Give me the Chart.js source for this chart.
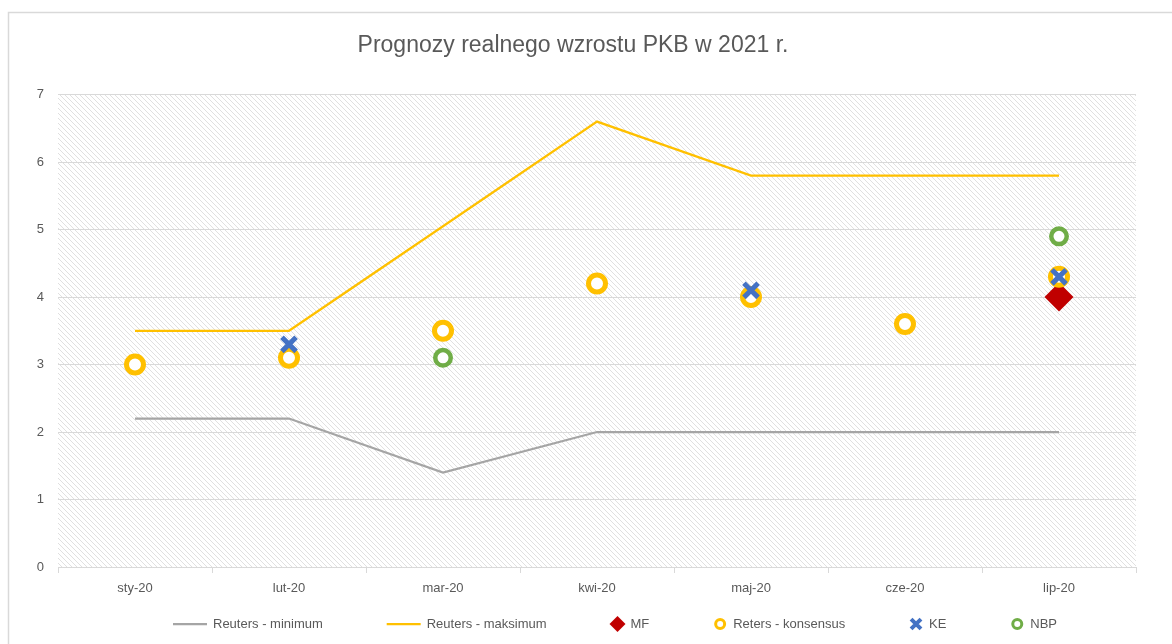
<!DOCTYPE html>
<html>
<head>
<meta charset="utf-8">
<script src="https://cdn.jsdelivr.net/npm/chart.js@4.4.0/dist/chart.umd.min.js"></script>
<style>
  html, body { margin: 0; padding: 0; background: #fff; }
  #wrap { position: relative; width: 1172px; height: 644px; }
</style>
</head>
<body>
<div id="wrap"><canvas id="chart"></canvas></div>
<script>
// dane
const months = ['sty-20', 'lut-20', 'mar-20', 'kwi-20', 'maj-20', 'cze-20', 'lip-20'];
const reutersMin = [2.2, 2.2, 1.4, 2.0, 2.0, 2.0, 2.0];
const reutersMax = [3.5, 3.5, 5.05, 6.6, 5.8, 5.8, 5.8];
const mf = [null, null, null, null, null, null, 4.0];
const konsensus = [3.0, 3.1, 3.5, 4.2, 4.0, 3.6, 4.3];
const ke = [null, 3.3, null, null, 4.1, null, 4.3];
const nbp = [null, null, 3.1, null, null, null, 4.9];
const yTicks = [0, 1, 2, 3, 4, 5, 6, 7];

const FONT = '"Liberation Sans", Arial, sans-serif';
const TXT = '#595959';
const GRID = '#d9d9d9';

// tło w paski (jak w Excelu)
function makeHatch() {
    const c = document.createElement('canvas');
    c.width = 5; c.height = 5;
    const g = c.getContext('2d');
    g.fillStyle = '#fff';
    g.fillRect(0, 0, 5, 5);
    g.fillStyle = '#e0e0e0';
    for (let i = 0; i < 5; i++) g.fillRect(i, i, 1, 1);
    return c;
}

const hatchPlugin = {
    id: 'hatch',
    beforeDraw(chart) {
        const { ctx, chartArea: a } = chart;
        ctx.save();
        // ramka wykresu
        ctx.strokeStyle = GRID;
        ctx.lineWidth = 1.5;
        ctx.beginPath();
        ctx.moveTo(8.5, chart.height);
        ctx.lineTo(8.5, 12.5);
        ctx.lineTo(chart.width, 12.5);
        ctx.stroke();
        ctx.fillStyle = ctx.createPattern(makeHatch(), 'repeat');
        ctx.fillRect(a.left, a.top, a.right - a.left, a.bottom - a.top);
        ctx.restore();
    }
};

function drawMarker(ctx, style, x, y, size) {
    ctx.beginPath();
    if (style === 'circle') {
        ctx.arc(x, y, size, 0, Math.PI * 2);
        ctx.fill();
        ctx.stroke();
    } else if (style === 'rectRot') {
        ctx.moveTo(x - size, y);
        ctx.lineTo(x, y - size);
        ctx.lineTo(x + size, y);
        ctx.lineTo(x, y + size);
        ctx.closePath();
        ctx.fill();
    } else if (style === 'crossRot') {
        const d = size * Math.SQRT1_2;
        ctx.moveTo(x - d, y - d); ctx.lineTo(x + d, y + d);
        ctx.moveTo(x + d, y - d); ctx.lineTo(x - d, y + d);
        ctx.stroke();
    }
}

// legenda rysowana ręcznie, rozłożona jak w Excelu
const legendPlugin = {
    id: 'excelLegend',
    afterDraw(chart) {
        const ctx = chart.ctx;
        ctx.save();
        ctx.font = '13px ' + FONT;
        ctx.textBaseline = 'middle';
        const items = chart.data.datasets.map(ds => {
            const isLine = ds.showLine !== false;
            const sample = isLine ? 34 : 14;
            return { ds, isLine, sample, w: sample + 6 + ctx.measureText(ds.label).width };
        });
        const left = 173, right = 1057, y = 624;
        const total = items.reduce((s, it) => s + it.w, 0);
        const gap = (right - left - total) / (items.length - 1);
        let x = left;
        items.forEach(it => {
            const ds = it.ds;
            if (it.isLine) {
                ctx.strokeStyle = ds.borderColor;
                ctx.lineWidth = 2.25;
                ctx.beginPath();
                ctx.moveTo(x, y);
                ctx.lineTo(x + it.sample, y);
                ctx.stroke();
            } else {
                ctx.fillStyle = ds.pointBackgroundColor;
                ctx.strokeStyle = ds.pointBorderColor;
                ctx.lineWidth = ds.legendBorder;
                drawMarker(ctx, ds.pointStyle, x + it.sample / 2, y, ds.legendSize);
            }
            ctx.fillStyle = TXT;
            ctx.fillText(ds.label, x + it.sample + 6, y);
            x += it.w + gap;
        });
        ctx.restore();
    }
};

const ctx = document.getElementById('chart').getContext('2d');
new Chart(ctx, {
    type: 'line',
    data: {
        labels: months,
        datasets: [
            {
                label: 'Reuters - minimum',
                data: reutersMin,
                borderColor: '#a5a5a5',
                borderWidth: 2.25,
                pointRadius: 0,
                order: 6
            },
            {
                label: 'Reuters - maksimum',
                data: reutersMax,
                borderColor: '#ffc000',
                borderWidth: 2.25,
                pointRadius: 0,
                order: 5
            },
            {
                label: 'MF',
                data: mf,
                showLine: false,
                pointStyle: 'rectRot',
                pointRadius: 14.5,
                pointBorderWidth: 0,
                pointBackgroundColor: '#c00000',
                pointBorderColor: '#c00000',
                legendSize: 8, legendBorder: 0,
                order: 4
            },
            {
                label: 'Reters - konsensus',
                data: konsensus,
                showLine: false,
                pointStyle: 'circle',
                pointRadius: 8.5,
                pointBorderWidth: 5,
                pointBackgroundColor: '#ffffff',
                pointBorderColor: '#ffc000',
                legendSize: 4.5, legendBorder: 3,
                order: 3
            },
            {
                label: 'KE',
                data: ke,
                showLine: false,
                pointStyle: 'crossRot',
                pointRadius: 10,
                pointBorderWidth: 5,
                pointBackgroundColor: '#4472c4',
                pointBorderColor: '#4472c4',
                legendSize: 7, legendBorder: 4,
                order: 2
            },
            {
                label: 'NBP',
                data: nbp,
                showLine: false,
                pointStyle: 'circle',
                pointRadius: 7.75,
                pointBorderWidth: 4.5,
                pointBackgroundColor: '#ffffff',
                pointBorderColor: '#70ad47',
                legendSize: 4.5, legendBorder: 3,
                order: 1
            }
        ]
    },
    options: {
        responsive: true,
        maintainAspectRatio: false,
        animation: false,
        events: [],
        layout: { padding: { left: 10, right: 36, top: 0, bottom: 37 } },
        plugins: {
            legend: { display: false },
            tooltip: { enabled: false },
            title: {
                display: true,
                text: 'Prognozy realnego wzrostu PKB w 2021 r.',
                color: TXT,
                font: { family: FONT, size: 23, weight: 'normal' },
                padding: { top: 32, bottom: 35 }
            }
        },
        scales: {
            x: {
                offset: true,
                grid: { drawOnChartArea: false, drawTicks: true, tickLength: 6, color: GRID, offset: true },
                border: { color: GRID, width: 1 },
                ticks: { color: TXT, font: { family: FONT, size: 13 }, padding: 8, maxRotation: 0 },
                afterFit: s => { s.height = 40; }
            },
            y: {
                min: 0,
                max: 7,
                afterBuildTicks: s => { s.ticks = yTicks.map(v => ({ value: v })); },
                grid: { color: GRID, drawTicks: false },
                border: { display: false },
                ticks: { color: TXT, font: { family: FONT, size: 13 }, padding: 14 },
                afterFit: s => { s.width = 48; }
            }
        }
    },
    plugins: [hatchPlugin, legendPlugin]
});
</script>
</body>
</html>
